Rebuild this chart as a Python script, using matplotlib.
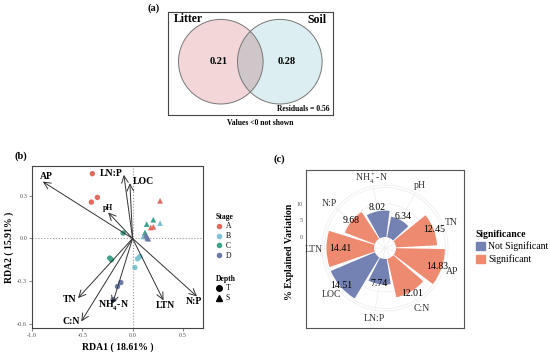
import numpy as np
import matplotlib.pyplot as plt
from matplotlib.patches import Circle, Patch
from matplotlib.lines import Line2D

plt.rcParams['font.family'] = ['Liberation Serif', 'DejaVu Serif']
plt.rcParams['mathtext.fontset'] = 'custom'
plt.rcParams['mathtext.rm'] = 'Liberation Serif'
plt.rcParams['mathtext.bf'] = 'Liberation Serif:bold'

W, H = 550, 358

# (a) variation partitioning
venn_names = ['Litter', 'Soil']
venn_values = [0.21, 0.28]
residuals = 0.56

# (b) RDA site scores
stage_names = ['A', 'B', 'C', 'D']
stage_colors = ['#E06B5E', '#7EC3D3', '#3FA28A', '#6C7AA6']
T_x = [[-0.40, -0.41, -0.35], [0.073, 0.05, 0.023], [-0.094, -0.227, -0.21], [-0.117, -0.15, -0.193]]
T_y = [[0.456, 0.256, 0.289], [-0.127, -0.143, -0.204], [0.038, -0.138, -0.15], [-0.31, -0.338, -0.43]]
S_x = [[0.273, 0.18, 0.206], [0.273, 0.106, 0.13], [0.206, 0.14, 0.123], [0.156, 0.133, 0.145]]
S_y = [[0.265, 0.077, 0.082], [0.108, 0.014, 0.03], [0.132, 0.101, 0.042], [-0.002, 0.021, 0.005]]

# RDA environmental arrows
env_names = ['AP', 'LN:P', 'LOC', 'pH', 'TN', 'C:N', r'NH$_\mathbf{4}^\mathbf{+}$-N', 'LTN', 'N:P']
env_x = [-0.893, -0.087, -0.027, -0.243, -0.543, -0.51, -0.20, 0.307, 0.64]
env_y = [0.40, 0.448, 0.39, 0.183, -0.42, -0.584, -0.46, -0.436, -0.408]
lab_x = [-0.86, -0.21, 0.107, -0.243, -0.627, -0.61, -0.193, 0.33, 0.607]
lab_y = [0.436, 0.46, 0.40, 0.213, -0.43, -0.584, -0.47, -0.47, -0.443]

# (c) explained variation
var_names = [r'NH$_4^+$-N', 'pH', 'TN', 'AP', 'C:N', 'LN:P', 'LOC', 'LTN', 'N:P']
var_values = [8.02, 6.34, 12.45, 14.83, 12.01, 7.74, 14.51, 14.41, 9.68]
var_sig = [False, False, True, True, True, False, False, True, True]
var_lab_r = [9.1, 7.75, 12.6, 13.5, 12.7, 7.7, 14.1, 10.3, 10.0]
sig_colors = {False: '#7482B3', True: '#EE8A70'}


def fr(x0, y0, x1, y1):
    return [x0 / W, 1 - y1 / H, (x1 - x0) / W, (y1 - y0) / H]


fig = plt.figure(figsize=(5.5, 3.58), dpi=100)

# ---------------- (a) ----------------
ax_a = fig.add_axes(fr(168, 12, 333, 115))
ax_a.set_xlim(0, 165)
ax_a.set_ylim(103, 0)
ax_a.set_xticks([])
ax_a.set_yticks([])
for s in ax_a.spines.values():
    s.set_color('#444444')
    s.set_linewidth(0.8)
c_left = Circle((52.8, 49.7), 42.3, facecolor='#F2D6D8', edgecolor='none')
c_right = Circle((111.8, 49.7), 42.3, facecolor='#DCEEF1', edgecolor='none')
ax_a.add_patch(c_left)
ax_a.add_patch(c_right)
ov = Circle((111.8, 49.7), 42.3, facecolor='#CEC6C8', edgecolor='none')
ax_a.add_patch(ov)
ov.set_clip_path(c_left)
for c in [(52.8, 49.7), (111.8, 49.7)]:
    ax_a.add_patch(Circle(c, 42.3, facecolor='none', edgecolor='#777777', lw=0.7))
ax_a.text(20, 7.5, venn_names[0], fontsize=8.5, fontweight='bold', ha='center', va='center')
ax_a.text(148.5, 8, venn_names[1], fontsize=8.5, fontweight='bold', ha='center', va='center')
ax_a.text(50.3, 49.7, f'{venn_values[0]:.2f}', fontsize=7.5, fontweight='bold', ha='center', va='center')
ax_a.text(118.7, 49.7, f'{venn_values[1]:.2f}', fontsize=7.5, fontweight='bold', ha='center', va='center')
ax_a.text(162, 97.3, f'Residuals = {residuals:.2f}', fontsize=5.5, fontweight='bold', ha='right', va='center')
fig.text(260 / W, 1 - 123 / H, 'Values <0 not shown', fontsize=5.5, fontweight='bold', ha='center', va='center')
fig.text(154 / W, 1 - 8.5 / H, '(a)', fontsize=7.5, fontweight='bold', ha='center', va='center')

# ---------------- (b) ----------------
ax_b = fig.add_axes(fr(32, 166, 203, 328))
ax_b.set_xlim(-1.0, 0.7)
ax_b.set_ylim(-0.63, 0.51)
ax_b.axhline(0, color='#9A9A9A', ls=':', lw=0.8, zorder=0)
ax_b.axvline(0, color='#9A9A9A', ls=':', lw=0.8, zorder=0)
for i in range(4):
    ax_b.scatter(T_x[i], T_y[i], s=15, marker='o', color=stage_colors[i], edgecolor='none', zorder=2)
    ax_b.scatter(S_x[i], S_y[i], s=17, marker='^', color=stage_colors[i], edgecolor='none', zorder=2)
for i in range(len(env_names)):
    ax_b.annotate('', xy=(env_x[i], env_y[i]), xytext=(0, 0),
                  arrowprops=dict(arrowstyle='->,head_length=0.5,head_width=0.24',
                                  color='#333333', lw=0.7, shrinkA=0, shrinkB=0), zorder=3)
    fs = 5.5 if env_names[i] == 'pH' else 7
    ax_b.text(lab_x[i], lab_y[i], env_names[i], fontsize=fs, fontweight='bold', ha='center', va='center', zorder=4)
ax_b.set_xticks([-1.0, -0.5, 0.0, 0.5])
ax_b.set_xticklabels(['-1.0', '-0.5', '0.0', '0.5'])
ax_b.set_yticks([-0.6, -0.3, 0.0, 0.3])
ax_b.set_yticklabels(['-0.6', '-0.3', '0.0', '0.3'])
ax_b.tick_params(labelsize=4.5, colors='#555555', length=2, width=0.5, pad=1.5)
for s in ax_b.spines.values():
    s.set_color('#444444')
    s.set_linewidth(0.8)
ax_b.set_xlabel('RDA1 ( 18.61% )', fontsize=7, fontweight='bold', labelpad=3)
ax_b.set_ylabel('RDA2 ( 15.91% )', fontsize=7, fontweight='bold', labelpad=2)
fig.text(21 / W, 1 - 156 / H, '(b)', fontsize=7.5, fontweight='bold', ha='center', va='center')

stage_handles = [Line2D([], [], marker='o', ls='', color=c, markersize=4, markeredgewidth=0)
                 for c in stage_colors]
leg1 = fig.legend(stage_handles, stage_names, title='Stage', loc='upper left',
                  bbox_to_anchor=(212 / W, 1 - 209 / H), frameon=False, fontsize=5.5,
                  title_fontproperties={'weight': 'bold', 'size': 5.5}, handlelength=0.8,
                  handletextpad=0.5, labelspacing=0.22, borderpad=0, alignment='left')
depth_handles = [Line2D([], [], marker='o', ls='', color='black', markersize=4),
                 Line2D([], [], marker='^', ls='', color='black', markersize=4)]
leg2 = fig.legend(depth_handles, ['T', 'S'], title='Depth', loc='upper left',
                  bbox_to_anchor=(212 / W, 1 - 271 / H), frameon=False, fontsize=5.5,
                  title_fontproperties={'weight': 'bold', 'size': 5.5}, handlelength=0.8,
                  handletextpad=0.5, labelspacing=0.22, borderpad=0, alignment='left')

# ---------------- (c) ----------------
ax_box = fig.add_axes(fr(305.7, 170, 464, 328))
ax_box.set_xticks([])
ax_box.set_yticks([])
for s in ax_box.spines.values():
    s.set_color('#555555')
    s.set_linewidth(0.8)

cx, cy, R = 385, 248, 63
rmin, rmax = -3.33, 15.76
ax_p = fig.add_axes(fr(cx - R, cy - R, cx + R, cy + R), projection='polar')
ax_p.set_theta_zero_location('N')
ax_p.set_theta_direction(-1)
step = 2 * np.pi / len(var_names)
theta = (np.deg2rad(-11) + step * np.arange(len(var_names))) % (2 * np.pi)
ax_p.bar(theta, var_values, width=step * 0.9, bottom=0,
         color=[sig_colors[s] for s in var_sig], edgecolor='none', zorder=2)
ax_p.set_xticks(theta)
ax_p.set_xticklabels([])
ax_p.set_yticks([5, 10, 15])
ax_p.set_yticklabels([])
ax_p.set_xlim(0, 2 * np.pi)
ax_p.set_ylim(rmin, rmax)
ax_p.grid(color='#EFEFEF', lw=0.6)
ax_p.spines['polar'].set_color('#EFEFEF')
ax_p.spines['polar'].set_linewidth(0.6)
ax_p.patch.set_alpha(0)
ax_p.tick_params(length=0)
for t, v, lr, n in zip(theta, var_values, var_lab_r, var_names):
    ax_p.text(t, lr, f'{v:.2f}', fontsize=7, ha='center', va='center', zorder=3)
    ax_p.text(t, 18.2, n, fontsize=7, ha='center', va='center', color='#333333', clip_on=False)

for v in [0, 5, 10]:
    ypx = cy - (v - rmin) / (rmax - rmin) * R
    fig.text(303 / W, 1 - ypx / H, str(v), fontsize=4.5, color='#555555', ha='right', va='center')
fig.text(290 / W, 1 - 252 / H, '% Explained Variation', fontsize=7, fontweight='bold',
         rotation=90, ha='center', va='center')
fig.text(279 / W, 1 - 159 / H, '(c)', fontsize=7.5, fontweight='bold', ha='center', va='center')

sig_handles = [Patch(color=sig_colors[False]), Patch(color=sig_colors[True])]
fig.legend(sig_handles, ['Not Significant', 'Significant'], title='Significance', loc='upper left',
           bbox_to_anchor=(471 / W, 1 - 225 / H), frameon=False, fontsize=7,
           title_fontproperties={'weight': 'bold', 'size': 7}, handlelength=0.9, handleheight=0.9,
           handletextpad=0.4, labelspacing=0.3, borderpad=0, alignment='left')

fig.savefig('out.png', dpi=100)
